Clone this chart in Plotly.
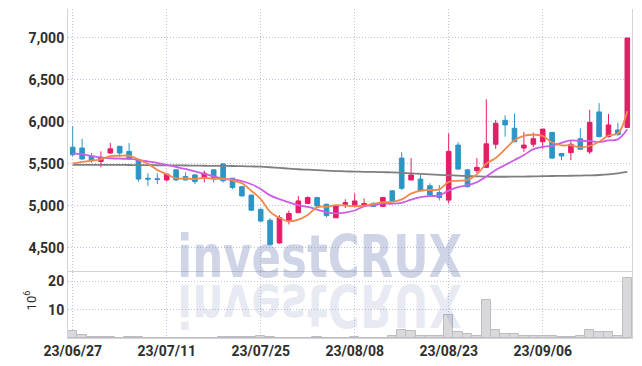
import plotly.graph_objects as go

dates = ["23/06/27", "23/06/28", "23/06/29", "23/06/30", "23/07/03", "23/07/04", "23/07/05", "23/07/06", "23/07/07", "23/07/10",
         "23/07/11", "23/07/12", "23/07/13", "23/07/14", "23/07/17", "23/07/18", "23/07/19", "23/07/20", "23/07/21", "23/07/24",
         "23/07/25", "23/07/26", "23/07/27", "23/07/28", "23/07/31", "23/08/01", "23/08/02", "23/08/03", "23/08/04", "23/08/07",
         "23/08/08", "23/08/09", "23/08/10", "23/08/11", "23/08/14", "23/08/16", "23/08/17", "23/08/18", "23/08/21", "23/08/22",
         "23/08/23", "23/08/24", "23/08/25", "23/08/28", "23/08/29", "23/08/30", "23/08/31", "23/09/01", "23/09/04", "23/09/05",
         "23/09/06", "23/09/07", "23/09/08", "23/09/11", "23/09/12", "23/09/13", "23/09/14", "23/09/15", "23/09/18", "23/09/19"]

open_ = [5700, 5690, 5590, 5530, 5630, 5710, 5650, 5550, 5330, 5325,
         5310, 5430, 5350, 5370, 5340, 5430, 5500, 5330, 5230, 5130,
         4960, 4830, 4560, 4830, 4920, 5030, 5100, 5020, 4860, 5020,
         5000, 5000, 5030, 4995, 5180, 5570, 5310, 5320, 5240, 5160,
         5070, 5725, 5430, 5420, 5460, 5735, 6020, 5925, 5690, 5735,
         5765, 5875, 5625, 5635, 5800, 5645, 6120, 5825, 5905, 5935]
high = [5950, 5800, 5630, 5650, 5750, 5715, 5750, 5560, 5390, 5390,
        5385, 5440, 5400, 5380, 5420, 5435, 5510, 5335, 5235, 5135,
        4970, 4855, 4890, 4945, 5120, 5115, 5110, 5030, 5010, 5080,
        5150, 5090, 5045, 5110, 5190, 5640, 5570, 5370, 5270, 5250,
        5865, 5760, 5435, 5570, 6270, 6025, 6080, 6100, 5880, 5875,
        5920, 5885, 5630, 5780, 5925, 6145, 6225, 6095, 5990, 7000]
low = [5590, 5550, 5515, 5460, 5620, 5580, 5550, 5290, 5240, 5260,
       5290, 5300, 5305, 5260, 5280, 5280, 5280, 5200, 5110, 4940,
       4810, 4530, 4550, 4780, 4915, 5025, 4990, 4865, 4855, 4975,
       4995, 4990, 4990, 4990, 5050, 5190, 5305, 5175, 5125, 5065,
       5030, 5430, 5220, 5390, 5450, 5680, 5825, 5760, 5645, 5700,
       5680, 5560, 5545, 5545, 5670, 5620, 5820, 5815, 5835, 5930]
close = [5610, 5560, 5540, 5580, 5680, 5630, 5560, 5320, 5320, 5315,
         5380, 5310, 5310, 5290, 5390, 5320, 5300, 5220, 5120, 4950,
         4820, 4540, 4860, 4910, 5060, 5100, 5000, 4885, 5000, 5040,
         5060, 5030, 4995, 5100, 5060, 5210, 5370, 5180, 5130, 5100,
         5650, 5440, 5230, 5460, 5740, 5985, 5965, 5765, 5725, 5800,
         5915, 5570, 5595, 5735, 5675, 5995, 5825, 5965, 5850, 7000]

ma5 = [5505, 5525, 5540, 5555, 5594, 5598, 5598, 5554, 5502, 5429,
       5379, 5329, 5327, 5321, 5336, 5324, 5322, 5304, 5270, 5182,
       5082, 4930, 4858, 4816, 4838, 4894, 4986, 4991, 5009, 5005,
       4997, 5003, 5025, 5045, 5049, 5079, 5147, 5184, 5190, 5198,
       5286, 5300, 5310, 5376, 5504, 5571, 5676, 5783, 5836, 5848,
       5834, 5755, 5721, 5723, 5698, 5714, 5765, 5839, 5862, 6127]
ma10 = [5627, 5617, 5595, 5575, 5568, 5563, 5560, 5548, 5530, 5512,
        5489, 5464, 5441, 5412, 5383, 5352, 5326, 5316, 5296, 5259,
        5203, 5126, 5081, 5043, 5010, 4988, 4958, 4925, 4913, 4922,
        4946, 4995, 5008, 5027, 5027, 5038, 5075, 5105, 5118, 5124,
        5183, 5224, 5247, 5283, 5351, 5429, 5488, 5547, 5606, 5676,
        5703, 5716, 5752, 5780, 5773, 5774, 5760, 5780, 5793, 5913]
ma60 = [5490, 5490, 5490, 5490, 5490, 5489, 5488, 5487, 5486, 5485,
        5484, 5483, 5482, 5480, 5479, 5478, 5477, 5476, 5474, 5471,
        5468, 5461, 5453, 5445, 5437, 5432, 5426, 5421, 5416, 5412,
        5409, 5407, 5405, 5402, 5400, 5395, 5389, 5383, 5377, 5371,
        5366, 5361, 5357, 5353, 5349, 5348, 5348, 5349, 5350, 5352,
        5355, 5357, 5358, 5360, 5362, 5365, 5369, 5376, 5388, 5405]

volume_m = [2.4, 0.9, 0.45, 0.45, 0.45, 0.15, 0.45, 0.45, 0.15, 0.15,
            0.15, 0.15, 0.15, 0.15, 0.15, 0.15, 0.45, 0.45, 0.45, 0.45,
            0.8, 0.45, 0.15, 0.15, 0.15, 0.15, 0.45, 0.15, 0.15, 0.15,
            0.45, 0.15, 0.15, 0.15, 0.55, 2.9, 2.6, 0.55, 0.55, 0.55,
            8.0, 2.0, 1.25, 0.8, 13.4, 2.7, 1.25, 1.25, 0.8, 0.55,
            0.8, 0.8, 0.45, 0.45, 0.8, 2.7, 2.3, 2.0, 0.8, 21.1]

tick_dates = ["23/06/27", "23/07/11", "23/07/25", "23/08/08", "23/08/23", "23/09/06"]
price_ticks = [4500, 5000, 5500, 6000, 6500, 7000]
volume_ticks = [10, 20]

UP = "#e41e66"
DOWN = "#2d95c6"
GRID = "#bfc4dc"
DASH = "1px,2px"
TICKFONT = dict(family="Roboto, DejaVu Sans, sans-serif", size=14, color="#2e2e2e", weight="bold")
WMFONT = "DejaVu Sans Condensed, DejaVu Sans, sans-serif"

fig = go.Figure()
fig.add_trace(go.Bar(x=dates, y=volume_m, xaxis="x", yaxis="y2",
                     marker=dict(color="#d9d9dc", line=dict(color="#bdbdc1", width=1)),
                     showlegend=False, hoverinfo="skip"))
fig.add_trace(go.Scatter(x=dates, y=ma60, mode="lines", line=dict(color="#7f7f7f", width=1.8, shape="spline"),
                         showlegend=False, hoverinfo="skip"))
fig.add_trace(go.Scatter(x=dates, y=ma10, mode="lines", line=dict(color="#cc5de8", width=1.8, shape="spline"),
                         showlegend=False, hoverinfo="skip"))
fig.add_trace(go.Scatter(x=dates, y=ma5, mode="lines", line=dict(color="#ef8a4f", width=1.8, shape="spline"),
                         showlegend=False, hoverinfo="skip"))
fig.add_trace(go.Candlestick(x=dates, open=open_, high=high, low=low, close=close,
                             increasing=dict(line=dict(color=UP, width=1), fillcolor=UP),
                             decreasing=dict(line=dict(color=DOWN, width=1), fillcolor=DOWN),
                             showlegend=False, hoverinfo="skip"))

split = 0.2006
fig.update_layout(
    width=642, height=366,
    margin=dict(l=68, r=10, t=9, b=28),
    paper_bgcolor="white", plot_bgcolor="white",
    bargap=0,
    xaxis=dict(type="category", anchor="y2", range=[-0.5, 59.5], rangeslider=dict(visible=False),
               tickmode="array", tickvals=tick_dates, ticktext=tick_dates, automargin=False,
               showgrid=True, gridcolor=GRID, griddash=DASH, gridwidth=1,
               showline=True, linecolor="#d4d4d8", mirror=True, ticks="", tickfont=TICKFONT),
    yaxis=dict(domain=[split, 1], range=[4214, 7345], tickvals=price_ticks, tickformat=",", automargin=False,
               showgrid=True, gridcolor=GRID, griddash=DASH, gridwidth=1, zeroline=False,
               showline=True, linecolor="#d4d4d8", mirror=True, ticks="", tickfont=TICKFONT),
    yaxis2=dict(domain=[0, split], range=[0, 23.4], tickvals=volume_ticks, automargin=False,
                showgrid=True, gridcolor=GRID, griddash=DASH, gridwidth=1, zeroline=False,
                showline=True, linecolor="#d4d4d8", mirror=True, ticks="", tickfont=TICKFONT),
    annotations=[
        dict(text="investCRUX", xref="paper", yref="paper", x=0.446, y=0.247, showarrow=False,
             xanchor="center", yanchor="middle",
             font=dict(family=WMFONT, size=59, color="rgba(110,125,180,0.33)", weight="bold")),
        dict(text="investCRUX", xref="paper", yref="paper", x=0.446, y=0.102, showarrow=False,
             xanchor="center", yanchor="middle",
             font=dict(family=WMFONT, size=59, color="rgba(110,125,180,0.16)", weight="bold")),
        dict(text="10<sup>6</sup>", xref="paper", yref="paper", x=-0.067, y=0.115, showarrow=False,
             textangle=-90, xanchor="center", yanchor="middle",
             font=dict(family="Roboto, DejaVu Sans, sans-serif", size=13, color="#2e2e2e")),
    ],
)

post = """
document.body.style.margin = '0';
document.body.style.padding = '0';
var a = document.querySelector('g.annotation[data-index="0"] text');
if (a) { a.style.transformBox = 'fill-box'; a.style.transformOrigin = 'center'; a.style.transform = 'scaleX(0.82)'; }
var t = document.querySelector('g.annotation[data-index="1"] text');
if (t) { t.style.transformBox = 'fill-box'; t.style.transformOrigin = 'center'; t.style.transform = 'scale(0.82, -1)'; }
"""
fig.write_html("out.html", post_script=post, config={"displayModeBar": False})
